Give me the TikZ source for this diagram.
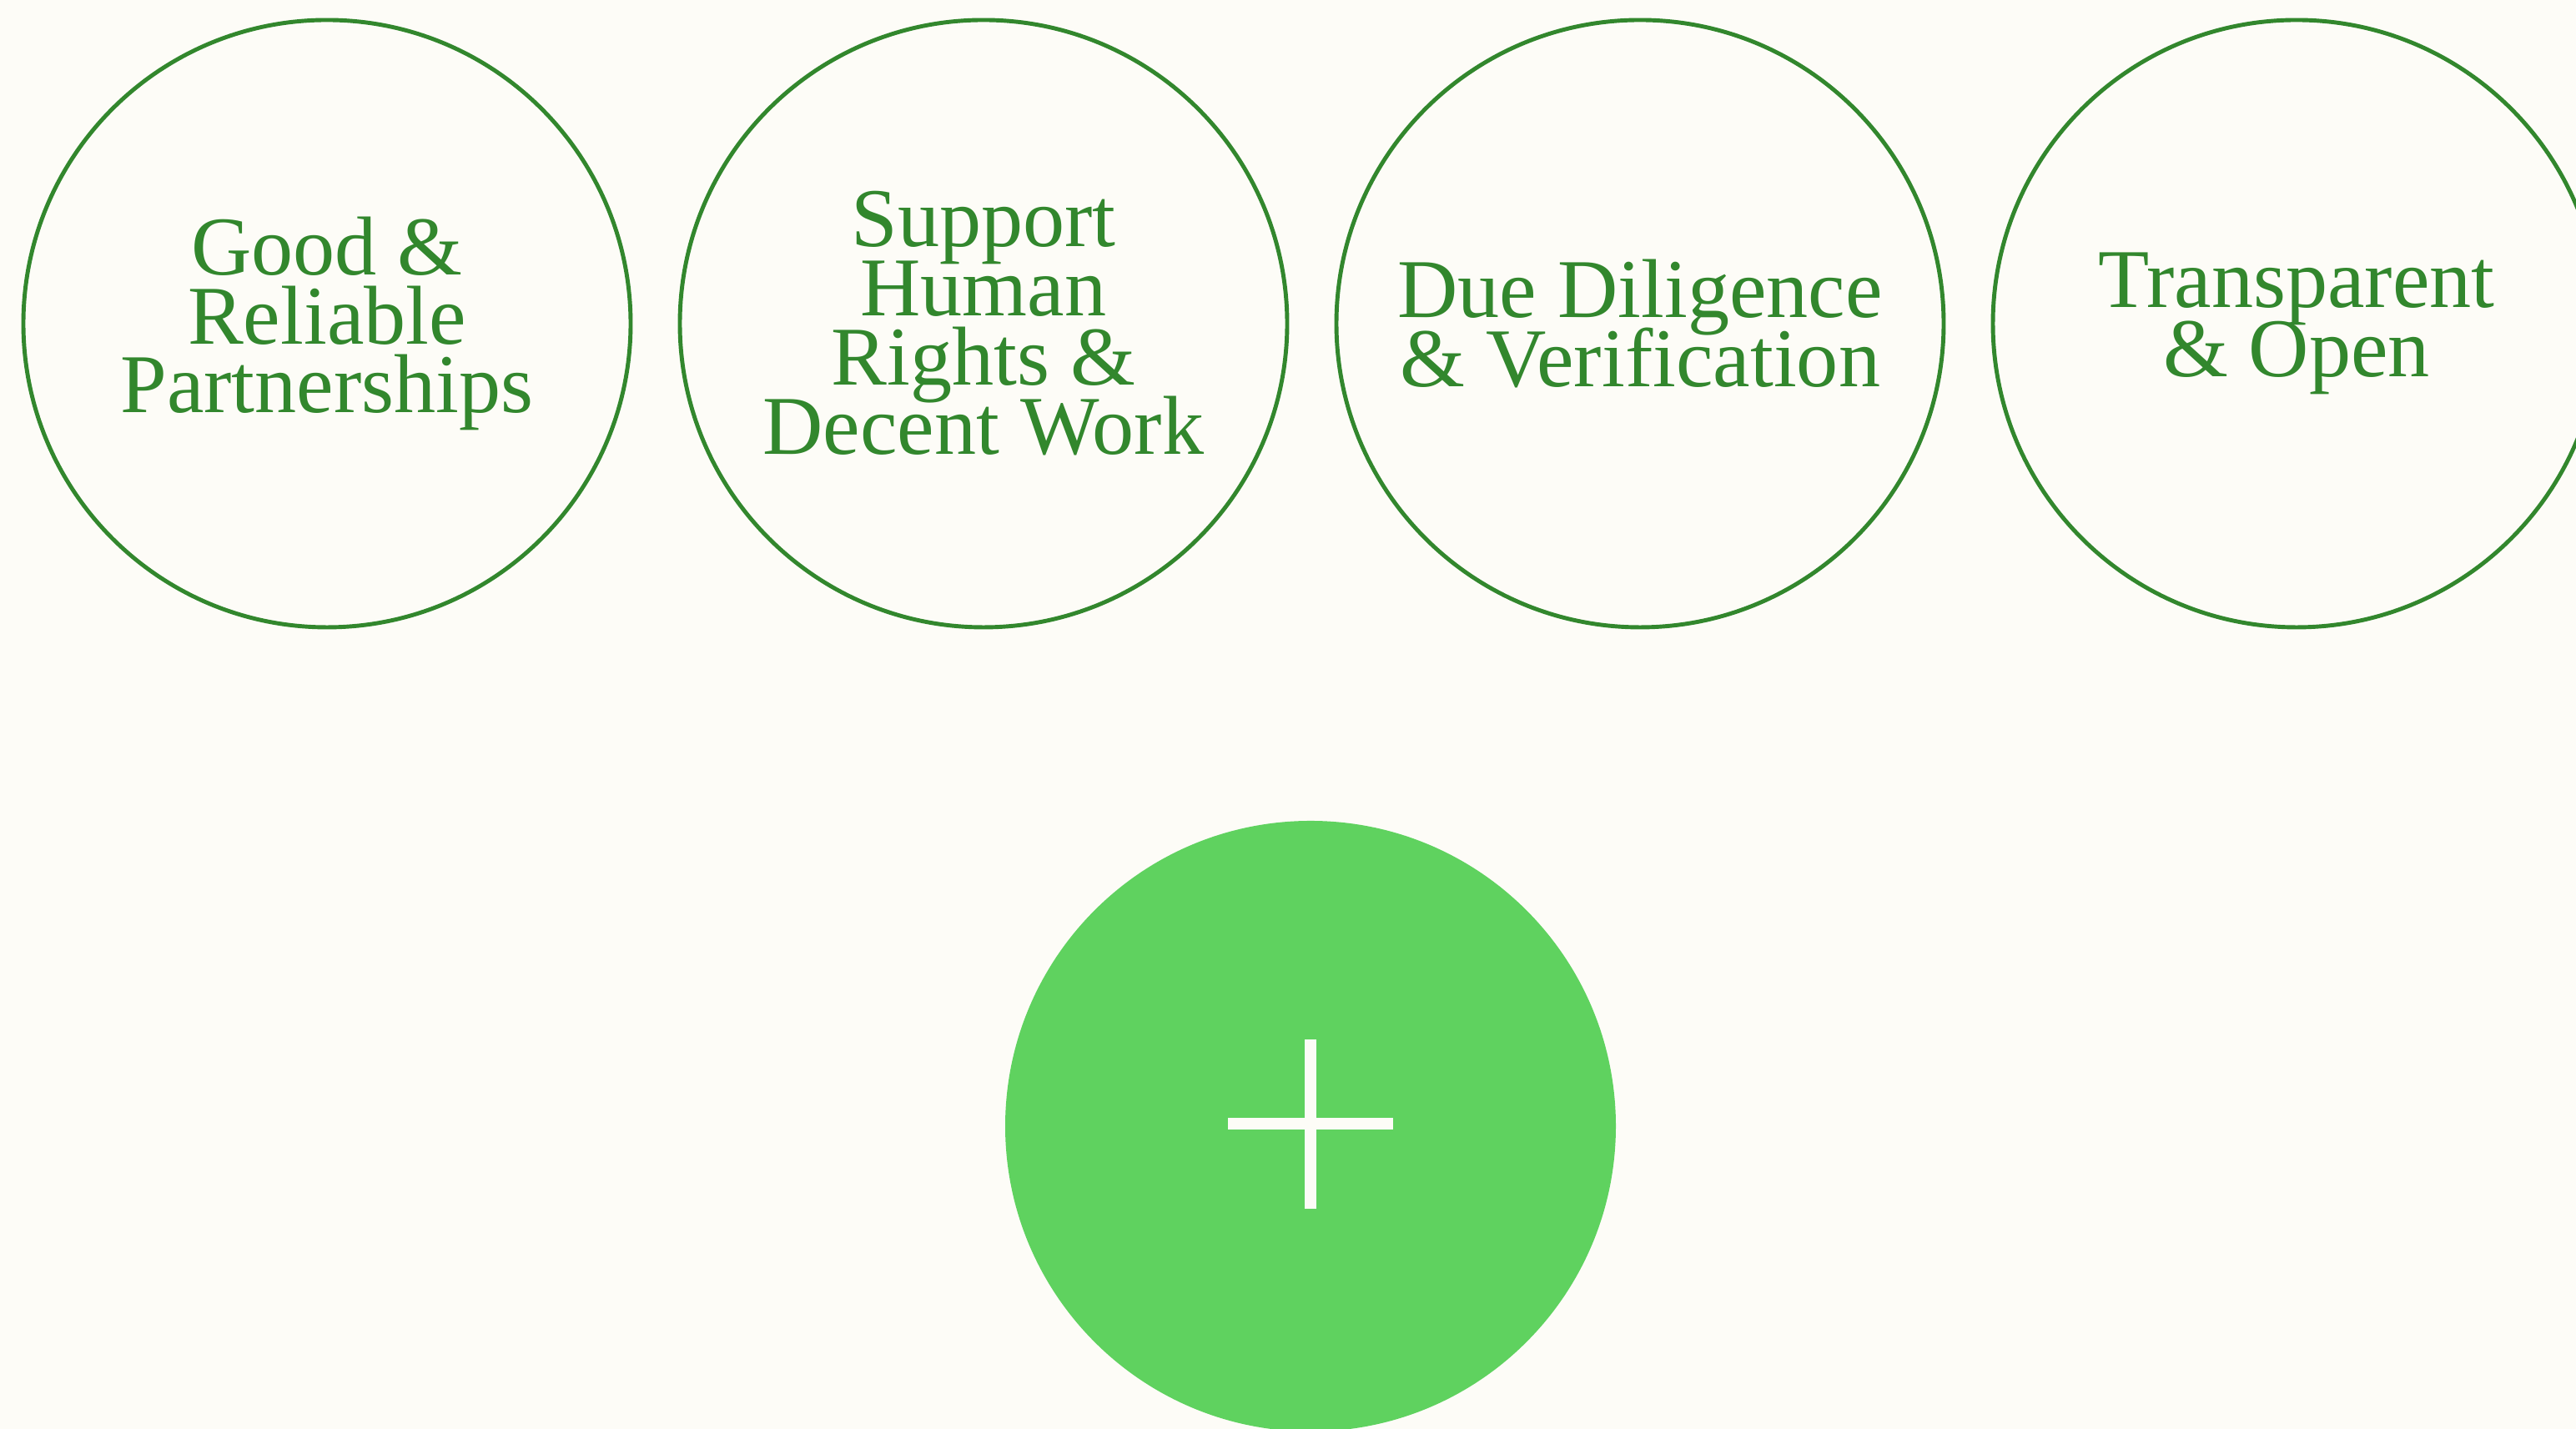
\documentclass[tikz,border=0pt]{standalone}
\usepackage{fontspec}
\setmainfont{Liberation Serif}
\usepackage{tikz}
\usetikzlibrary{shapes,arrows}
\definecolor{paper}{HTML}{FDFCF7}
\definecolor{leaf}{RGB}{50,135,45}
\definecolor{lime}{HTML}{5FD25F}
\newcommand{\valuefont}{\fontsize{28.5}{23.6}\selectfont\lineskiplimit=-50pt\relax}
\tikzstyle{value} = [circle, minimum size=7.28cm, inner sep=0pt, draw=leaf, line width=1.4pt, text=leaf, align=center, font=\valuefont]
\tikzstyle{addbtn} = [circle, minimum size=7.32cm, inner sep=0pt, fill=lime]
\tikzstyle{cross} = [draw=paper, line width=0.14cm]
\begin{document}
\begin{tikzpicture} [node distance=7.87cm]
        \clip (0,0) rectangle (30.88,17.13);
        \fill [paper] (0,0) rectangle (30.88,17.13);
        \node (good) [value] at (3.92,13.25) {Good \&\\Reliable\\Partnerships};
        \node (rights) [value, right of = good] {Support\\Human\\Rights \&\\Decent Work};
        \node (diligence) [value, right of = rights] {Due Diligence\\\& Verification};
        \node (open) [value, right of = diligence] {Transparent\\\& Open};
        \node (add) [addbtn] at (15.71,3.63) {};
        \draw [cross] ([xshift=-0.99cm,yshift=0.03cm]add.center) -- ([xshift=0.99cm,yshift=0.03cm]add.center);
        \draw [cross] ([yshift=1.04cm]add.center) -- ([yshift=-0.99cm]add.center);
        \end{tikzpicture}
\end{document}
